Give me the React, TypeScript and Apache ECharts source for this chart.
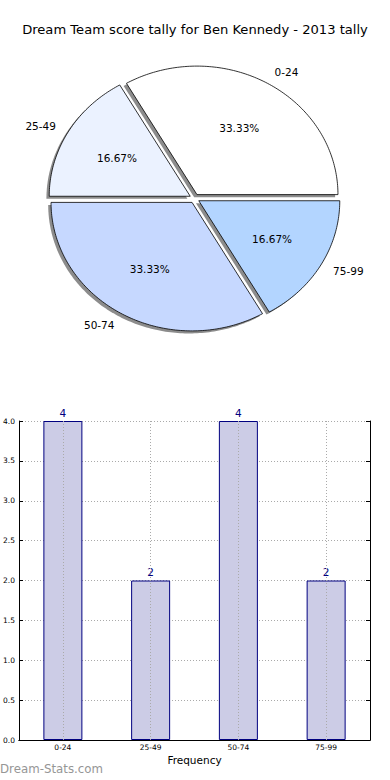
import React, { useEffect, useRef } from 'react';
import * as echarts from 'echarts';

const pieLabels = ['0-24', '25-49', '50-74', '75-99'];
const pieValues = [4, 2, 4, 2];
const pieColors = ['#ffffff', '#ebf2ff', '#c6d8ff', '#b3d5ff'];

const barCategories = ['0-24', '25-49', '50-74', '75-99'];
const barValues = [4, 2, 4, 2];

const titleText = 'Dream Team score tally for Ben Kennedy - 2013 tally';
const xAxisName = 'Frequency';
const watermark = 'Dream-Stats.com';

const FONT = '"DejaVu Sans", sans-serif';

export default function App() {
  const ref = useRef<HTMLDivElement>(null);

  useEffect(() => {
    document.body.style.margin = '0';
    const chart = echarts.init(ref.current!, null, { renderer: 'svg' });
    const total = pieValues.reduce((a, b) => a + b, 0);
    const cx = 194.5;
    const cy = 198.5;
    const rx = 141;
    const ry = 128.5;
    const explode = 0.035;

    const renderPie = (params: any, api: any) => {
      const i = params.dataIndex;
      const v = api.value(0) as number;
      let before = 0;
      for (let k = 0; k < i; k++) before += pieValues[k];
      const a0 = (before / total) * 2 * Math.PI;
      const a1 = ((before + v) / total) * 2 * Math.PI;
      const mid = (a0 + a1) / 2;
      const cosm = Math.cos(mid);
      const sinm = Math.sin(mid);
      const ox = cx + explode * rx * cosm;
      const oy = cy - explode * ry * sinm;
      const pts: number[][] = [[ox, oy]];
      const n = Math.max(8, Math.ceil((a1 - a0) / (Math.PI / 180)));
      for (let s = 0; s <= n; s++) {
        const t = a0 + ((a1 - a0) * s) / n;
        pts.push([ox + rx * Math.cos(t), oy - ry * Math.sin(t)]);
      }
      const sh = pts.map(([x, y]) => [x - 0.02 * rx, y + 0.02 * ry]);
      return {
        type: 'group',
        children: [
          { type: 'polygon', shape: { points: sh }, style: { fill: '#000', opacity: 0.45 }, z2: 0, silent: true },
          { type: 'polygon', shape: { points: pts }, style: { fill: pieColors[i], stroke: '#000', lineWidth: 0.8 }, z2: 10 },
          {
            type: 'text',
            x: ox + 1.1 * rx * cosm,
            y: oy - 1.1 * ry * sinm,
            z2: 20,
            style: { text: pieLabels[i], align: cosm > 0 ? 'left' : 'right', verticalAlign: 'middle', font: `10.5px ${FONT}`, fill: '#000' },
          },
          {
            type: 'text',
            x: ox + 0.6 * rx * cosm,
            y: oy - 0.6 * ry * sinm,
            z2: 20,
            style: { text: ((v / total) * 100).toFixed(2) + '%', align: 'center', verticalAlign: 'middle', font: `10.5px ${FONT}`, fill: '#000' },
          },
        ],
      };
    };

    const option: any = {
      animation: false,
      textStyle: { fontFamily: FONT },
      title: {
        text: titleText,
        left: 'center',
        top: 23,
        padding: 0,
        textStyle: { fontSize: 13.1, fontWeight: 'normal', color: '#000', fontFamily: FONT },
      },
      graphic: [
        {
          type: 'text',
          left: 0,
          top: 763,
          style: { text: watermark, fill: '#969696', font: `11.8px ${FONT}` },
        },
      ],
      grid: { left: 19, right: 20, top: 421, bottom: 40 },
      xAxis: [
        {
          type: 'category',
          data: barCategories,
          position: 'bottom',
          boundaryGap: true,
          axisLine: { lineStyle: { color: '#000', width: 1 } },
          axisTick: { inside: true, alignWithLabel: true, length: 4, lineStyle: { color: '#000' } },
          axisLabel: { fontSize: 7.5, color: '#000', margin: 3, fontFamily: FONT },
          splitLine: { show: false },
          name: xAxisName,
          nameLocation: 'middle',
          nameGap: 14,
          nameTextStyle: { fontSize: 10.5, color: '#000', fontFamily: FONT },
        },
        {
          type: 'category',
          data: barCategories,
          position: 'top',
          boundaryGap: true,
          axisLine: { lineStyle: { color: '#000', width: 1 } },
          axisTick: { inside: true, alignWithLabel: true, length: 4, lineStyle: { color: '#000' } },
          axisLabel: { show: false },
          splitLine: { show: false },
        },
      ],
      yAxis: [
        {
          type: 'value',
          min: 0,
          max: 4,
          interval: 0.5,
          position: 'left',
          axisLine: { show: true, lineStyle: { color: '#000', width: 1 } },
          axisTick: { show: true, inside: true, length: 4, lineStyle: { color: '#000' } },
          axisLabel: { formatter: (v: number) => v.toFixed(1), fontSize: 7.5, color: '#000', margin: 4, fontFamily: FONT },
          splitLine: { show: true, lineStyle: { color: '#aaaaaa', type: [1, 2], width: 1 } },
        },
        {
          type: 'value',
          min: 0,
          max: 4,
          interval: 0.5,
          position: 'right',
          axisLine: { show: true, lineStyle: { color: '#000', width: 1 } },
          axisTick: { show: true, inside: true, length: 4, lineStyle: { color: '#000' } },
          axisLabel: { show: false },
          splitLine: { show: false },
        },
      ],
      series: [
        {
          type: 'custom',
          coordinateSystem: 'none',
          data: pieValues,
          renderItem: renderPie,
          silent: true,
        },
        {
          type: 'bar',
          xAxisIndex: 0,
          yAxisIndex: 0,
          data: barValues,
          barWidth: 39,
          itemStyle: { color: '#ccccE6', borderColor: '#000080', borderWidth: 1 },
          label: { show: true, position: 'top', distance: 3, color: '#000080', fontSize: 10.5, fontFamily: FONT },
          markLine: {
            silent: true,
            symbol: 'none',
            label: { show: false },
            lineStyle: { color: '#aaaaaa', type: [1, 2], width: 1 },
            data: barCategories.map((c) => ({ xAxis: c })),
          },
        },
      ],
    };
    chart.setOption(option);
    return () => chart.dispose();
  }, []);

  return <div ref={ref} style={{ width: 390, height: 780 }} />;
}
